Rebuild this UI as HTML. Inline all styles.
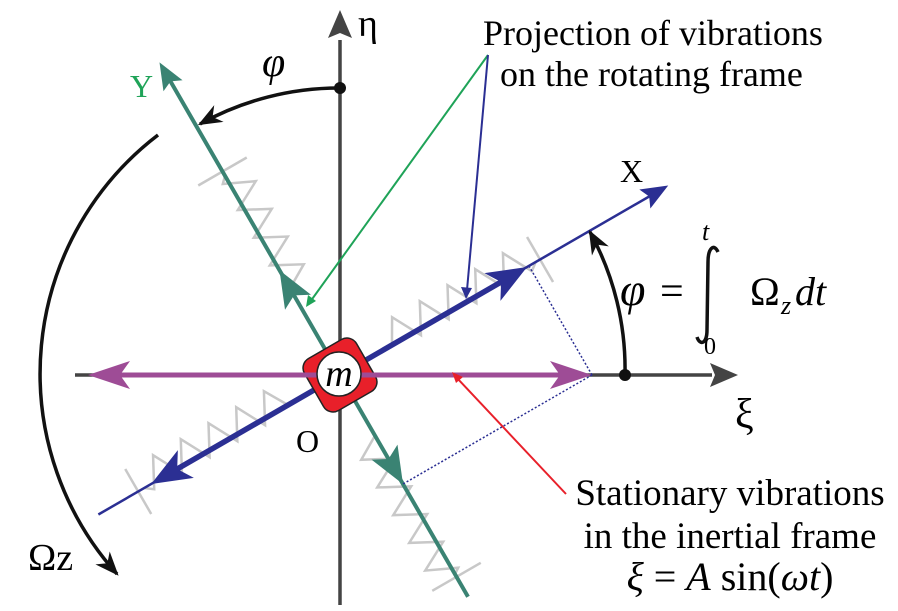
<!DOCTYPE html>
<html><head><meta charset="utf-8"><style>
html,body{margin:0;padding:0;background:#fff;width:898px;height:611px;overflow:hidden;}
svg{display:block;font-family:"Liberation Serif",serif;overflow:hidden;}
</style></head><body>
<svg width="898" height="611" viewBox="0 0 898 611" xmlns="http://www.w3.org/2000/svg">
<defs>
<marker id="ak" viewBox="0 0 10 10" refX="9" refY="5" markerWidth="24" markerHeight="24" orient="auto" markerUnits="userSpaceOnUse"><path d="M0,1 L10,5 L0,9 L3,5 z" fill="#111"/></marker>
</defs>

<line x1="340" y1="605" x2="340" y2="40" stroke="#444" stroke-width="3.5"/>
<path d="M340,10 L352,38 L340,33 L328,38 z" fill="#444"/>
<line x1="75" y1="375" x2="712" y2="375" stroke="#444" stroke-width="3.5"/>
<path d="M738,375 L710,363 L715,375 L710,387 z" fill="#444"/>

<g transform="translate(340,375) rotate(-30)">
  <g fill="none" stroke="#c8c8c8" stroke-width="2.5">
    <polyline points="60,0 74,-24 90,6 106,-24 122,6 138,-24 154,6 170,-24 186,6 202,-24 218,6 226,0"/>
    <line x1="231" y1="-26" x2="231" y2="26"/>
    <polyline points="-60,0 -74,-24 -90,6 -106,-24 -122,6 -138,-24 -154,6 -170,-24 -186,6 -202,-24 -218,6 -226,0"/>
    <line x1="-233" y1="-26" x2="-233" y2="26"/>
    <polyline points="0,-100 24,-114 -6,-130 24,-146 -6,-162 24,-178 -6,-194 24,-210 -6,-224 0,-230"/>
    <line x1="-28" y1="-235" x2="28" y2="-235"/>
    <polyline points="0,70 -24,84 6,100 -24,116 6,132 -24,148 6,164 -24,180 6,196 -24,212 6,226 0,230"/>
    <line x1="-28" y1="233" x2="28" y2="233"/>
  </g>
  <line x1="-279" y1="0" x2="360" y2="0" stroke="#2b2f93" stroke-width="2.5"/>
  <path d="M379,0 L352,-11 L357,0 L352,11 z" fill="#2b2f93"/>
  <line x1="-195" y1="0" x2="195" y2="0" stroke="#2b2f93" stroke-width="5.5"/>
  <path d="M216,0 L176,-16 L186,0 L176,16 z" fill="#2b2f93"/>
  <path d="M-218,0 L-178,-16 L-188,0 L-178,16 z" fill="#2b2f93"/>
  <line x1="0" y1="256" x2="0" y2="-340" stroke="#3a8373" stroke-width="4"/>
  <path d="M0,-361 L-11,-334 L0,-339 L11,-334 z" fill="#3a8373"/>
  <path d="M0,-121 L-15,-84 L0,-92 L15,-84 z" fill="#3a8373"/>
  <path d="M0,126 L-15,89 L0,97 L15,89 z" fill="#3a8373"/>
  <rect x="-30" y="-30" width="60" height="60" rx="11" fill="#e8202a" stroke="#222" stroke-width="1.5"/>
</g>

<line x1="110" y1="375" x2="570" y2="375" stroke="#9e4c96" stroke-width="5"/>
<path d="M88,375 L130,361 L120,375 L130,389 z" fill="#9e4c96"/>
<path d="M592,375 L550,361 L560,375 L550,389 z" fill="#9e4c96"/>

<circle cx="339" cy="374" r="22" fill="#fff" stroke="#222" stroke-width="1.5"/>
<text x="339" y="386" font-size="38" font-style="italic" text-anchor="middle">m</text>

<line x1="592" y1="375" x2="529" y2="266" stroke="#2b2f93" stroke-width="1.5" stroke-dasharray="2,2"/>
<line x1="592" y1="375" x2="403" y2="484" stroke="#2b2f93" stroke-width="1.5" stroke-dasharray="2,2"/>

<circle cx="340" cy="88" r="6" fill="#111"/>
<circle cx="625" cy="375" r="6" fill="#111"/>

<path d="M340,88 A287,287 0 0 0 200,124" fill="none" stroke="#111" stroke-width="3.5" marker-end="url(#ak)"/>
<path d="M625,375 A285,285 0 0 0 590,232" fill="none" stroke="#111" stroke-width="3.5" marker-end="url(#ak)"/>
<path d="M158,135 A300,300 0 0 0 117,574" fill="none" stroke="#111" stroke-width="3.5" marker-end="url(#ak)"/>

<line x1="488" y1="55" x2="310" y2="302" stroke="#1fa358" stroke-width="2"/>
<path d="M306,307 L308,295 L316,301 z" fill="#1fa358"/>
<line x1="488" y1="55" x2="467" y2="290" stroke="#2b2f93" stroke-width="2"/>
<path d="M466,299 L461,287 L472,288 z" fill="#2b2f93"/>
<line x1="566" y1="494" x2="457" y2="378" stroke="#e8202a" stroke-width="2"/>
<path d="M452,372 L463,377 L456,383 z" fill="#e8202a"/>

<text x="358" y="36" font-size="38">η</text>
<text x="262" y="76" font-size="42" font-style="italic">φ</text>
<text x="130" y="97" font-size="32" fill="#1fa358">Y</text>
<text x="620" y="182" font-size="32">X</text>
<text x="735" y="428" font-size="42">ξ</text>
<text x="296" y="452" font-size="32">O</text>
<text x="28" y="570" font-size="38">Ωz</text>

<text x="483" y="45" font-size="36">Projection of vibrations</text>
<text x="500" y="86" font-size="36">on the rotating frame</text>

<text x="730" y="505" font-size="37" text-anchor="middle">Stationary vibrations</text>
<text x="730" y="548" font-size="37" text-anchor="middle">in the inertial frame</text>
<text x="730" y="590" font-size="40" text-anchor="middle"><tspan font-style="italic">ξ</tspan> = <tspan font-style="italic">A</tspan> sin(<tspan font-style="italic">ωt</tspan>)</text>

<text x="620" y="305" font-size="46" font-style="italic">φ</text>
<text x="660" y="305" font-size="42">=</text>
<path d="M718,252 C714,243 708,248 708,262 L707,330 C707,344 700,346 697,337" fill="none" stroke="#111" stroke-width="3.5"/>
<text x="702" y="240" font-size="26" font-style="italic">t</text>
<text x="704" y="354" font-size="24">0</text>
<text x="750" y="305" font-size="40">Ω</text>
<text x="781" y="314" font-size="26" font-style="italic">z</text>
<text x="795" y="305" font-size="40" font-style="italic">dt</text>
</svg>
</body></html>
